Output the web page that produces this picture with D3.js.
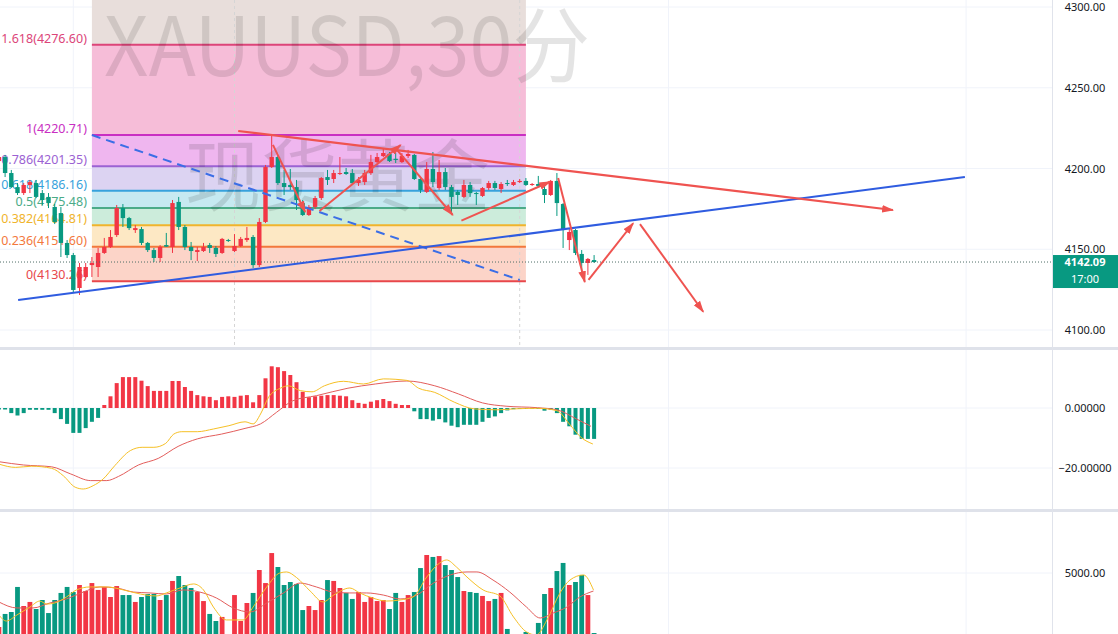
<!DOCTYPE html>
<html>
<head>
<meta charset="utf-8">
<title>XAUUSD 30分</title>
<script src="https://cdn.jsdelivr.net/npm/d3@7/dist/d3.min.js"></script>
<style>
  html, body { margin: 0; padding: 0; background: #fff; }
  svg { display: block; font-family: "Noto Sans", sans-serif; }
</style>
</head>
<body>
<svg id="chart" width="1118" height="634"></svg>
<script>
// candles, 30 min bars: [open, high, low, close]
const ohlc = [
  [4204.6,4208.4,4203.4,4207.1],[4207.1,4208.4,4194.7,4197.2],[4197.2,4199.1,4187.9,4188.5],[4188.5,4191.0,4183.6,4184.8],
  [4184.8,4191.0,4183.6,4189.8],[4189.8,4192.9,4184.8,4191.6],[4191.0,4192.9,4181.7,4182.4],[4184.8,4186.7,4177.4,4180.5],
  [4182.4,4184.8,4175.5,4178.6],[4176.2,4178.0,4165.6,4166.9],[4172.4,4176.2,4145.2,4153.9],[4153.9,4155.7,4144.6,4146.4],
  [4146.4,4147.7,4122.9,4124.8],[4126.0,4141.5,4121.7,4139.0],[4132.8,4141.5,4132.2,4139.0],[4140.2,4145.2,4132.8,4141.5],
  [4139.0,4150.8,4132.8,4147.7],[4147.7,4157.0,4147.1,4151.4],[4151.4,4161.9,4150.8,4157.6],[4158.8,4177.4,4157.6,4175.5],
  [4175.5,4178.0,4163.8,4169.3],[4169.3,4170.0,4161.9,4163.1],[4161.9,4165.0,4160.1,4163.1],[4162.5,4163.8,4152.6,4153.9],
  [4153.9,4154.5,4148.3,4149.5],[4149.5,4150.8,4142.1,4144.6],[4144.6,4152.6,4142.1,4151.4],[4152.6,4160.1,4151.4,4151.6],
  [4151.4,4180.5,4147.7,4178.6],[4179.3,4182.4,4161.9,4163.8],[4163.8,4165.0,4149.5,4151.4],[4151.4,4154.5,4143.3,4148.9],
  [4148.3,4151.4,4142.7,4149.5],[4148.9,4153.9,4148.3,4151.4],[4152.6,4153.9,4147.7,4150.8],[4150.8,4152.0,4145.2,4147.1],
  [4147.7,4157.0,4147.1,4156.4],[4155.7,4156.4,4154.5,4155.1],[4148.9,4159.4,4148.3,4152.0],[4152.0,4157.6,4151.4,4156.4],
  [4155.7,4163.8,4154.5,4157.0],[4157.6,4158.8,4138.4,4140.2],[4140.2,4169.3,4139.0,4166.9],[4166.9,4202.2,4166.2,4200.9],
  [4200.9,4220.7,4200.3,4207.1],[4207.1,4208.4,4189.8,4191.0],[4191.0,4199.1,4183.6,4188.5],[4189.8,4199.7,4186.7,4188.5],
  [4188.5,4192.9,4174.3,4180.5],[4178.6,4180.5,4170.6,4171.2],[4171.2,4177.4,4170.6,4176.2],[4176.2,4183.0,4174.9,4181.7],
  [4181.7,4194.7,4180.5,4194.1],[4194.7,4199.1,4189.8,4192.9],[4193.5,4199.1,4191.0,4197.2],[4196.6,4207.1,4196.0,4197.2],
  [4197.8,4200.3,4196.0,4196.6],[4197.2,4199.7,4189.8,4191.0],[4191.0,4194.7,4189.2,4192.9],[4191.6,4199.1,4189.8,4197.2],
  [4197.2,4208.4,4196.0,4204.0],[4204.0,4209.6,4203.4,4207.1],[4207.7,4212.7,4207.1,4209.6],[4209.0,4210.2,4204.0,4204.6],
  [4206.0,4209.6,4203.4,4205.3],[4204.0,4209.6,4203.4,4207.7],[4207.7,4211.5,4206.5,4209.0],[4208.4,4209.0,4192.9,4193.5],
  [4193.5,4194.7,4184.8,4186.7],[4185.5,4204.0,4184.8,4199.7],[4199.7,4210.2,4188.5,4191.6],[4187.9,4205.3,4186.7,4197.8],
  [4197.8,4200.3,4186.7,4188.5],[4188.5,4189.8,4171.8,4182.4],[4185.5,4186.7,4177.4,4183.6],[4182.4,4192.9,4181.7,4189.8],
  [4189.8,4191.6,4182.4,4184.8],[4184.8,4185.5,4177.4,4184.2],[4183.0,4188.5,4182.4,4187.9],[4187.9,4192.3,4186.7,4191.0],
  [4191.0,4192.3,4186.7,4187.9],[4187.3,4191.6,4184.8,4190.4],[4191.0,4192.9,4189.2,4190.4],[4189.8,4192.9,4189.2,4191.6],
  [4191.6,4193.5,4191.0,4192.3],[4192.3,4194.1,4189.2,4189.8],[4190.0,4191.0,4189.2,4190.4],[4190.4,4195.4,4188.5,4189.2],
  [4187.3,4189.8,4178.6,4183.6],[4183.6,4192.9,4183.0,4192.3],[4192.3,4197.2,4170.6,4178.6],[4178.0,4178.6,4150.8,4161.9],
  [4155.7,4162.5,4149.5,4160.7],[4161.9,4162.5,4146.4,4147.7],[4147.1,4149.5,4134.1,4141.5],[4141.5,4144.6,4134.1,4144.0],
  [4143.3,4146.4,4141.5,4142.09]
];

const volumes = [
  1400,2270,2400,4070,2800,3070,2600,3200,2330,3200, 3670,4070,3730,4200,3800,4330,3870,4070,3400,4130,
  3530,3530,3070,3400,3600,3600,3200,3530,4470,4800, 4200,4000,3730,3130,2270,1800,2070,500,3530,1800,
  3000,3670,5200,4330,6330,5400,4200,4400,4270,2530, 2800,2530,3200,4530,4470,4000,3670,3270,3730,3070,
  3400,3130,3200,2600,3670,3070,3530,3730,5330,6200, 6070,6130,5530,5200,4730,3800,3730,3670,3470,3130,
  3270,3670,1270,400,700,1070,500,1670,3600,4000, 5130,5670,4200,4400,4870,3530,1000
];

// volume moving averages, [bar index, value]
const volMa5 = [[0,2200],[1.2,1800],[2.9,2200],[5,2730],[6.6,3130],[7.7,2930],[9,3000],[10.9,3400],[12.5,3870],[14.7,4070],
  [17.4,4070],[20.1,3870],[22.8,3600],[25.4,3470],[27,3670],[29.2,4000],[31.4,4270],[33,3870],[34.6,2730],[36.7,1870],
  [39.4,1870],[41,2730],[43.2,4070],[45.3,5000],[46.4,5070],[48,4700],[50.2,3800],[52.3,3070],[54,3530],[56.6,4000],
  [58.2,3670],[60.3,3330],[62.5,3130],[64.7,3200],[66.8,3400],[69,4730],[71.1,5670],[72.2,5870],[73.8,5400],[75.5,4730],
  [78.1,3870],[80.8,3470],[83,2070],[85.1,1070],[86.7,870],[88.4,1870],[90.5,3670],[92.1,4530],[94.3,4870],[95.9,3870]];
const volMa10 = [[0,3070],[2.9,2670],[5.5,2670],[8.2,3000],[10.9,3270],[13.6,3730],[16.3,4070],[19,4000],[21.7,3730],
  [24.4,3670],[27,3600],[29.7,3870],[32.4,3730],[35.1,3330],[37.8,2670],[40.5,2400],[43.2,3000],[45.9,3670],[48.6,4330],
  [51.2,4070],[53.9,3730],[56.6,3670],[59.3,3670],[62,3530],[64.7,3270],[67.4,3530],[70.1,4330],[72.8,4870],[75.5,5070],
  [77.1,5070],[79.7,4530],[82.4,3730],[85.1,2730],[87.3,2000],[89.4,2330],[91.6,2730],[93.7,3400],[95.9,3800]];

const macdHist = [
  -0.5,-0.5,-1.7,-2.5,-1.7,-0.6,-0.6,-0.6,-0.6,-1.7, -3.7,-5.3,-8.3,-8.3,-6.7,-4.6,-3.3,1.0,3.9,8.3,
  10.3,10.3,10.3,9.1,7.3,5.7,5.7,5.7,9.0,9.0, 7.0,5.7,4.3,3.9,3.7,2.6,3.7,3.9,3.7,4.1,
  4.3,1.9,4.3,9.9,13.9,13.6,12.3,11.0,8.6,5.4, 3.6,3.9,4.1,4.3,4.3,4.1,3.9,2.6,1.7,1.4,
  2.1,2.6,3.0,2.3,1.4,1.0,1.0,-1.1,-3.7,-3.7, -4.2,-3.7,-4.8,-5.9,-6.4,-5.6,-5.6,-5.6,-4.6,-3.3,
  -2.8,-1.7,-0.8,-0.4,-0.3,-0.3,-0.2,-0.3,-0.9,-0.6, -1.7,-4.6,-6.1,-8.9,-10.3,-10.3,-10.3
];
const macdLine = [[0,-18.7],[2.7,-19.8],[5.3,-19.4],[8.5,-20.1],[10.4,-22.6],[12.3,-26.4],[13.6,-27],[15.2,-25.9],
  [16.8,-23.7],[18.7,-19.2],[21.2,-14.2],[23.1,-13.1],[25,-13.1],[26.9,-11.8],[28.2,-8.7],[29.5,-7.9],[32,-7.9],[34.6,-7],
  [37.1,-5.9],[39.7,-4.6],[41,-5.3],[42.2,-2],[43.5,3.6],[45.4,6.6],[46.7,7.4],[48.6,5.8],[50.5,5.4],[52.5,7.4],[55.6,8.9],
  [58.8,8],[62,9.7],[65.8,9.2],[67.7,6.6],[70.3,5.2],[73.5,1.9],[76.7,-0.3],[80.5,-0.6],[83,-0.3],[86.9,-0.1],[90,-0.9],
  [92,-5.3],[93.9,-9.8],[95.8,-12]];
const signalLine = [[0,-17.9],[4,-19],[8.5,-19.6],[11.6,-22],[14.8,-24.2],[17.4,-24.2],[19.3,-22.8],[22.5,-19],[25.7,-16.8],
  [28.9,-12.8],[32,-10.3],[35.9,-8.7],[39.7,-6.8],[42.2,-5.3],[44.8,-1.4],[47.4,2.4],[51.2,4.1],[56.3,6.6],[60.7,8],[65.8,9],
  [70.3,7.4],[74.1,4.7],[78,1.7],[81.8,0.6],[86.9,0.1],[90,-0.6],[93.2,-3.7],[95.5,-6.1]];

// fibonacci retracement
const fibRatios = [0, 0.236, 0.382, 0.5, 0.618, 0.786, 1, 1.618, 2.618];
const fibPrices = [4130.26, 4151.60, 4164.81, 4175.48, 4186.16, 4201.35, 4220.71, 4276.60, 4367.00];
const fibLineColors = ["#e8474b","#f3783c","#f0b42c","#4bab88","#37a2dc","#9b62d3","#c92fc2","#dc4579"];
const fibBandColors = ["#fcd4c8","#fde8c4","#ccecdb","#c6e9f1","#dcd3f2","#efb6ef","#f6bdd8","#e8dedb"];
const fibFrom = 15, fibTo = 85;

// drawings: [bar index, price]
const supportLine = [[3.1, 4118.6], [155.8, 4194.7]];
const dashedLine = [[15.0, 4220.7], [84.0, 4131.0]];
const resistLine = [[38.6, 4223.2], [144.2, 4174.3]];
const arrows = [
  [[44.2, 4214.6], [49.4, 4173.1]],
  [[51.7, 4173.7], [64.8, 4214.6]],
  [[64.2, 4211.5], [73.2, 4171.2]],
  [[74.6, 4167.7], [88.9, 4191.8]],
  [[90.2, 4194.1], [94.5, 4129.7]],
  [[95.1, 4131.0], [102.3, 4166.1]],
  [[103.4, 4165.6], [113.6, 4111.3]]
];

const priceTicks = [4100, 4150, 4200, 4250, 4300];
const macdTicks = [0, -20];
const volTicks = [5000];
const gridBars = [12, 60, 108, 156];
const sessionBars = [38, 84];
const lastPrice = 4142.09, lastTime = "17:00";

const plotW = 1052;
const UP = "#f23645", DOWN = "#089981";

const x = d3.scaleLinear().domain([0, 96]).range([-1.1, 594.1]);
const y = d3.scaleLinear().domain([4100, 4300]).range([330, 7]);
const yMacd = d3.scaleLinear().domain([-20, 0]).range([468, 408]);
const yVol = d3.scaleLinear().domain([0, 5000]).range([648, 573]);

const svg = d3.select("#chart");
const defs = svg.append("defs");
function clip(id, y0, h) {
  defs.append("clipPath").attr("id", id).append("rect")
    .attr("x", 0).attr("y", y0).attr("width", plotW).attr("height", h);
}
clip("cp-price", 0, 347);
clip("cp-macd", 350, 159);
clip("cp-vol", 512, 122);

defs.append("marker").attr("id", "arrowhead")
  .attr("viewBox", "0 0 10 10").attr("refX", 9).attr("refY", 5)
  .attr("markerUnits", "userSpaceOnUse").attr("markerWidth", 12).attr("markerHeight", 12)
  .attr("orient", "auto")
  .append("path").attr("d", "M0,1.8 L10,5 L0,8.2 Z").attr("fill", "#ef5350");

svg.append("rect").attr("width", 1118).attr("height", 634).attr("fill", "#fff");

const pricePane = svg.append("g").attr("clip-path", "url(#cp-price)");
const macdPane = svg.append("g").attr("clip-path", "url(#cp-macd)");
const volPane = svg.append("g").attr("clip-path", "url(#cp-vol)");

// grid
const gridColor = "#f0f3fa";
[pricePane, macdPane, volPane].forEach(function(p) {
  p.selectAll(".vgrid").data(gridBars).enter().append("line")
    .attr("x1", d => x(d)).attr("x2", d => x(d)).attr("y1", 0).attr("y2", 634)
    .attr("stroke", gridColor);
});
pricePane.selectAll(".hgrid").data(priceTicks).enter().append("line")
  .attr("x1", 0).attr("x2", plotW).attr("y1", d => y(d)).attr("y2", d => y(d)).attr("stroke", gridColor);
macdPane.selectAll(".hgrid").data(macdTicks).enter().append("line")
  .attr("x1", 0).attr("x2", plotW).attr("y1", d => yMacd(d)).attr("y2", d => yMacd(d)).attr("stroke", gridColor);
volPane.selectAll(".hgrid").data(volTicks).enter().append("line")
  .attr("x1", 0).attr("x2", plotW).attr("y1", d => yVol(d)).attr("y2", d => yVol(d)).attr("stroke", gridColor);

// fib bands + lines
const fx0 = x(fibFrom), fx1 = x(fibTo);
pricePane.selectAll(".fibband").data(d3.range(fibPrices.length - 1)).enter().append("rect")
  .attr("x", fx0).attr("width", fx1 - fx0)
  .attr("y", i => y(fibPrices[i + 1])).attr("height", i => y(fibPrices[i]) - y(fibPrices[i + 1]))
  .attr("fill", i => fibBandColors[i]);

pricePane.selectAll(".session").data(sessionBars).enter().append("line")
  .attr("x1", d => x(d)).attr("x2", d => x(d)).attr("y1", 0).attr("y2", 347)
  .attr("stroke", "#d5d5d5").attr("stroke-dasharray", "3,3");

pricePane.selectAll(".fibline").data(d3.range(fibLineColors.length)).enter().append("line")
  .attr("x1", fx0).attr("x2", fx1).attr("y1", i => y(fibPrices[i])).attr("y2", i => y(fibPrices[i]))
  .attr("stroke", i => fibLineColors[i]).attr("stroke-width", 2);

// watermark
pricePane.append("text").text("XAUUSD,30分")
  .attr("x", 104).attr("y", 76).attr("font-size", 82)
  .attr("textLength", 486).attr("lengthAdjust", "spacingAndGlyphs")
  .attr("font-family", "'Noto Sans CJK SC', 'Noto Sans', sans-serif")
  .attr("fill", "#000").attr("opacity", 0.1);
pricePane.append("text").text("现货黄金")
  .attr("x", 185).attr("y", 205).attr("font-size", 78)
  .attr("textLength", 305).attr("lengthAdjust", "spacingAndGlyphs")
  .attr("font-family", "'Noto Sans CJK SC', sans-serif")
  .attr("fill", "#000").attr("opacity", 0.11);

// fib labels
pricePane.selectAll(".fiblabel").data(d3.range(fibLineColors.length)).enter().append("text")
  .attr("x", fx0 - 5).attr("y", i => y(fibPrices[i]) - 2)
  .attr("text-anchor", "end").attr("font-size", 12.5)
  .attr("fill", i => fibLineColors[i])
  .text(i => fibRatios[i] + "(" + fibPrices[i].toFixed(2) + ")");

// candles
const bodyW = 4.4;
const candle = pricePane.selectAll(".candle").data(ohlc).enter().append("g");
candle.append("line")
  .attr("x1", (d, i) => x(i)).attr("x2", (d, i) => x(i))
  .attr("y1", d => y(d[1])).attr("y2", d => y(d[2]))
  .attr("stroke", d => d[3] >= d[0] ? UP : DOWN).attr("stroke-width", 1);
candle.append("rect")
  .attr("x", (d, i) => x(i) - bodyW / 2).attr("width", bodyW)
  .attr("y", d => y(Math.max(d[0], d[3])))
  .attr("height", d => Math.max(1, Math.abs(y(d[0]) - y(d[3]))))
  .attr("fill", d => d[3] >= d[0] ? UP : DOWN);

// last price line
pricePane.append("line").attr("x1", 0).attr("x2", plotW)
  .attr("y1", y(lastPrice)).attr("y2", y(lastPrice))
  .attr("stroke", "#4d6d67").attr("stroke-dasharray", "1,2");

// drawings
const seg = d3.line().x(d => x(d[0])).y(d => y(d[1]));
pricePane.append("path").attr("d", seg(dashedLine)).attr("fill", "none")
  .attr("stroke", "#3b6ee6").attr("stroke-width", 2).attr("stroke-dasharray", "9,6");
pricePane.append("path").attr("d", seg(supportLine)).attr("fill", "none")
  .attr("stroke", "#2f5ce0").attr("stroke-width", 2);
pricePane.append("path").attr("d", seg(resistLine)).attr("fill", "none")
  .attr("stroke", "#ef5350").attr("stroke-width", 2.2).attr("marker-end", "url(#arrowhead)");
pricePane.selectAll(".arrow").data(arrows).enter().append("path")
  .attr("d", d => seg(d)).attr("fill", "none")
  .attr("stroke", "#ef5350").attr("stroke-width", 2).attr("marker-end", "url(#arrowhead)");

// MACD
macdPane.selectAll(".hist").data(macdHist).enter().append("rect")
  .attr("x", (d, i) => x(i) - 2).attr("width", 4)
  .attr("y", d => yMacd(Math.max(0, d)))
  .attr("height", d => Math.abs(yMacd(d) - yMacd(0)))
  .attr("fill", d => d >= 0 ? UP : DOWN);
const macdPath = d3.line().x(d => x(d[0])).y(d => yMacd(d[1])).curve(d3.curveMonotoneX);
macdPane.append("path").attr("d", macdPath(signalLine)).attr("fill", "none")
  .attr("stroke", "#e35d5b").attr("stroke-width", 1);
macdPane.append("path").attr("d", macdPath(macdLine)).attr("fill", "none")
  .attr("stroke", "#f6c026").attr("stroke-width", 1);

// volume
volPane.selectAll(".vol").data(volumes).enter().append("rect")
  .attr("x", (d, i) => x(i) - 2.4).attr("width", 4.8)
  .attr("y", d => yVol(d)).attr("height", d => yVol(0) - yVol(d))
  .attr("fill", (d, i) => ohlc[i][3] >= ohlc[i][0] ? UP : DOWN);
const volPath = d3.line().x(d => x(d[0])).y(d => yVol(d[1])).curve(d3.curveMonotoneX);
volPane.append("path").attr("d", volPath(volMa10)).attr("fill", "none")
  .attr("stroke", "#e35d5b").attr("stroke-width", 1);
volPane.append("path").attr("d", volPath(volMa5)).attr("fill", "none")
  .attr("stroke", "#f6c026").attr("stroke-width", 1);

// pane separators and price scale border
svg.append("rect").attr("x", 0).attr("y", 347).attr("width", 1118).attr("height", 3).attr("fill", "#dfe2ea");
svg.append("rect").attr("x", 0).attr("y", 509).attr("width", 1118).attr("height", 3).attr("fill", "#dfe2ea");
svg.append("line").attr("x1", plotW + 0.5).attr("x2", plotW + 0.5).attr("y1", 0).attr("y2", 634).attr("stroke", "#e0e3eb");

// axes
function rightAxis(scale, ticks, fmt) {
  const g = svg.append("g").attr("transform", "translate(" + plotW + ",0)")
    .call(d3.axisRight(scale).tickValues(ticks).tickSize(0).tickFormat(d3.format(fmt)));
  g.select(".domain").remove();
  g.selectAll("text").attr("x", 33).attr("text-anchor", "middle")
    .attr("font-size", 11).attr("font-family", "'Noto Sans', sans-serif").attr("fill", "#131722");
  return g;
}
rightAxis(y, priceTicks, ".2f");
rightAxis(yMacd, macdTicks, ".5f");
rightAxis(yVol, volTicks, ".2f");

// last price label
const ly = y(lastPrice);
svg.append("rect").attr("x", plotW + 1).attr("y", ly - 7).attr("width", 1118 - plotW - 1).attr("height", 33)
  .attr("fill", DOWN);
svg.append("text").attr("x", 1085).attr("y", ly + 4).attr("text-anchor", "middle")
  .attr("font-size", 11).attr("font-weight", "bold").attr("fill", "#fff").text(lastPrice.toFixed(2));
svg.append("text").attr("x", 1085).attr("y", ly + 21).attr("text-anchor", "middle")
  .attr("font-size", 11).attr("fill", "#fff").text(lastTime);
</script>
</body>
</html>
